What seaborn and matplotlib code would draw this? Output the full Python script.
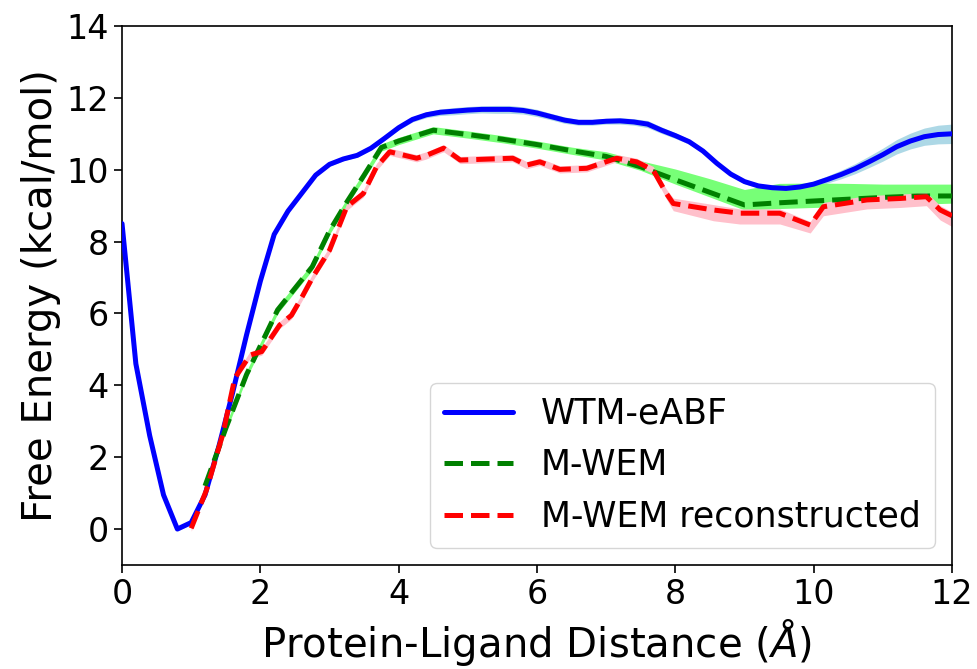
import numpy as np
import pandas as pd
import matplotlib
matplotlib.use("Agg")
import matplotlib.pyplot as plt
import seaborn as sns

# ---- data ----
abf_x = [0, 0.2, 0.4, 0.6, 0.8, 1.0, 1.2, 1.4, 1.6, 1.8, 2.0, 2.2, 2.4, 2.6, 2.8, 3.0,
         3.2, 3.4, 3.6, 3.8, 4.0, 4.2, 4.4, 4.6, 4.8, 5.0, 5.2, 5.4, 5.6, 5.8, 6.0,
         6.2, 6.4, 6.6, 6.8, 7.0, 7.2, 7.4, 7.6, 7.8, 8.0, 8.2, 8.4, 8.6, 8.8, 9.0,
         9.2, 9.4, 9.6, 9.8, 10.0, 10.2, 10.4, 10.6, 10.8, 11.0, 11.2, 11.4, 11.6, 11.8, 12.0]
abf_y = [8.5, 4.6, 2.6, 0.95, 0.0, 0.18, 0.95, 2.3, 3.8, 5.4, 6.9, 8.2, 8.85, 9.35, 9.85, 10.15,
         10.3, 10.4, 10.6, 10.88, 11.17, 11.4, 11.53, 11.6, 11.63, 11.66, 11.68, 11.68, 11.68, 11.65, 11.58,
         11.48, 11.38, 11.32, 11.32, 11.35, 11.36, 11.33, 11.27, 11.1, 10.95, 10.78, 10.52, 10.18, 9.88, 9.67,
         9.55, 9.5, 9.48, 9.52, 9.6, 9.73, 9.87, 10.03, 10.22, 10.42, 10.64, 10.8, 10.92, 10.98, 11.0]
abf_err = [0.05, 0.05, 0.05, 0.05, 0.05, 0.05, 0.05, 0.05, 0.05, 0.05, 0.05, 0.05, 0.05, 0.05, 0.05, 0.05,
           0.05, 0.05, 0.05, 0.06, 0.06, 0.07, 0.08, 0.09, 0.1, 0.1, 0.1, 0.11, 0.11, 0.1, 0.1,
           0.09, 0.09, 0.08, 0.08, 0.08, 0.09, 0.09, 0.1, 0.09, 0.08, 0.07, 0.06, 0.06, 0.06, 0.06,
           0.06, 0.06, 0.06, 0.07, 0.08, 0.1, 0.12, 0.14, 0.16, 0.18, 0.2, 0.22, 0.24, 0.26, 0.27]

wem_x = [1.2, 1.5, 1.8, 2.0, 2.25, 2.5, 2.75, 3.0, 3.25, 3.5, 3.75, 4.0, 4.25, 4.5, 5.0,
         5.5, 6.0, 6.5, 7.0, 7.5, 8.0, 8.5, 9.0, 9.5, 10.0, 10.5, 11.0, 11.5, 12.0]
wem_y = [1.2, 2.8, 4.3, 5.1, 6.1, 6.7, 7.3, 8.3, 9.1, 9.85, 10.62, 10.8, 10.95, 11.1, 10.98,
         10.85, 10.7, 10.53, 10.37, 10.08, 9.72, 9.37, 9.02, 9.08, 9.13, 9.18, 9.23, 9.27, 9.27]
wem_lo = [1.1, 2.7, 4.2, 5.0, 6.0, 6.6, 7.2, 8.2, 9.0, 9.75, 10.52, 10.7, 10.85, 11.0, 10.88,
          10.75, 10.6, 10.43, 10.27, 9.98, 9.6, 9.24, 8.88, 8.92, 8.95, 8.98, 9.0, 9.04, 9.07]
wem_hi = [1.3, 2.9, 4.4, 5.2, 6.2, 6.8, 7.4, 8.4, 9.2, 9.95, 10.72, 10.9, 11.05, 11.2, 11.08,
          10.95, 10.8, 10.63, 10.5, 10.25, 10.02, 9.75, 9.45, 9.62, 9.63, 9.62, 9.6, 9.6, 9.6]

rec_x = [1.0, 1.22, 1.46, 1.63, 1.85, 2.02, 2.28, 2.45, 2.6, 2.76, 3.0, 3.25, 3.49, 3.68, 3.87,
         4.26, 4.4, 4.65, 4.89, 5.65, 5.85, 6.04, 6.33, 6.72, 7.15, 7.44, 7.68, 7.87, 7.97,
         8.55, 8.93, 9.51, 9.95, 10.14, 10.77, 11.25, 11.63, 11.83, 12.0]
rec_y = [0.02, 1.08, 2.66, 4.2, 4.84, 4.94, 5.68, 5.95, 6.45, 7.02, 7.76, 8.97, 9.34, 10.08, 10.5,
         10.32, 10.4, 10.6, 10.27, 10.32, 10.13, 10.22, 10.01, 10.04, 10.32, 10.22, 9.99, 9.34, 9.06,
         8.88, 8.79, 8.79, 8.46, 8.97, 9.16, 9.2, 9.25, 8.88, 8.72]
rec_lo_off = [0.08, 0.08, 0.08, 0.08, 0.1, 0.1, 0.1, 0.1, 0.1, 0.1, 0.1, 0.1, 0.1, 0.1, 0.1,
              0.1, 0.1, 0.1, 0.1, 0.1, 0.1, 0.1, 0.1, 0.1, 0.1, 0.1, 0.1, 0.15, 0.2,
              0.3, 0.3, 0.3, 0.22, 0.25, 0.25, 0.25, 0.25, 0.28, 0.3]
rec_hi_off = [0.08, 0.08, 0.08, 0.08, 0.1, 0.1, 0.1, 0.1, 0.1, 0.1, 0.1, 0.1, 0.1, 0.1, 0.1,
              0.1, 0.1, 0.1, 0.1, 0.1, 0.1, 0.1, 0.1, 0.1, 0.1, 0.1, 0.1, 0.12, 0.15,
              0.15, 0.12, 0.12, 0.1, 0.12, 0.12, 0.12, 0.12, 0.12, 0.11]

labels = ["WTM-eABF", "M-WEM", "M-WEM reconstructed"]

# ---- plot ----
sns.set_theme(style="ticks")
plt.rcParams["font.family"] = ["DejaVu Sans"]
plt.rcParams["text.color"] = "black"
plt.rcParams["axes.labelcolor"] = "black"
plt.rcParams["xtick.color"] = "black"
plt.rcParams["ytick.color"] = "black"

fig = plt.figure(figsize=(9.77, 6.69), dpi=100)
ax = fig.add_axes([0.1249, 0.1555, 0.8495, 0.8056])

abf_x_a, abf_y_a, abf_e_a = map(np.asarray, (abf_x, abf_y, abf_err))
ax.fill_between(abf_x_a, abf_y_a - abf_e_a, abf_y_a + abf_e_a, color="lightblue", lw=0, zorder=1)
ax.fill_between(wem_x, wem_lo, wem_hi, color="#77ff77", lw=0, zorder=1)
rx, ry = np.asarray(rec_x), np.asarray(rec_y)
ax.fill_between(rx, ry - np.asarray(rec_lo_off), ry + np.asarray(rec_hi_off), color="pink", lw=0, zorder=1)

df_abf = pd.DataFrame({"x": abf_x, "y": abf_y})
df_wem = pd.DataFrame({"x": wem_x, "y": wem_y})
df_rec = pd.DataFrame({"x": rec_x, "y": rec_y})

sns.lineplot(data=df_abf, x="x", y="y", ax=ax, color="blue", lw=3.6, label=labels[0], zorder=3)
sns.lineplot(data=df_wem, x="x", y="y", ax=ax, color="green", lw=3.6, ls="--", label=labels[1], zorder=3)
sns.lineplot(data=df_rec, x="x", y="y", ax=ax, color="red", lw=3.6, ls="--", label=labels[2], zorder=3)

ax.set_xlim(0, 12)
ax.set_ylim(-1, 14)
ax.set_xticks([0, 2, 4, 6, 8, 10, 12])
ax.set_yticks([0, 2, 4, 6, 8, 10, 12, 14])
ax.tick_params(axis="both", labelsize=24, length=6, width=1.2, colors="black")
for s in ax.spines.values():
    s.set_color("black")
    s.set_linewidth(1.2)
ax.set_xlabel("Protein-Ligand Distance ($\\AA$)", fontsize=29, color="black")
ax.set_ylabel("Free Energy (kcal/mol)", fontsize=29, color="black")

leg = ax.legend(loc="lower right", fontsize=25, frameon=True)
for t in leg.get_texts():
    t.set_color("black")

fig.savefig("out.png", dpi=100)
